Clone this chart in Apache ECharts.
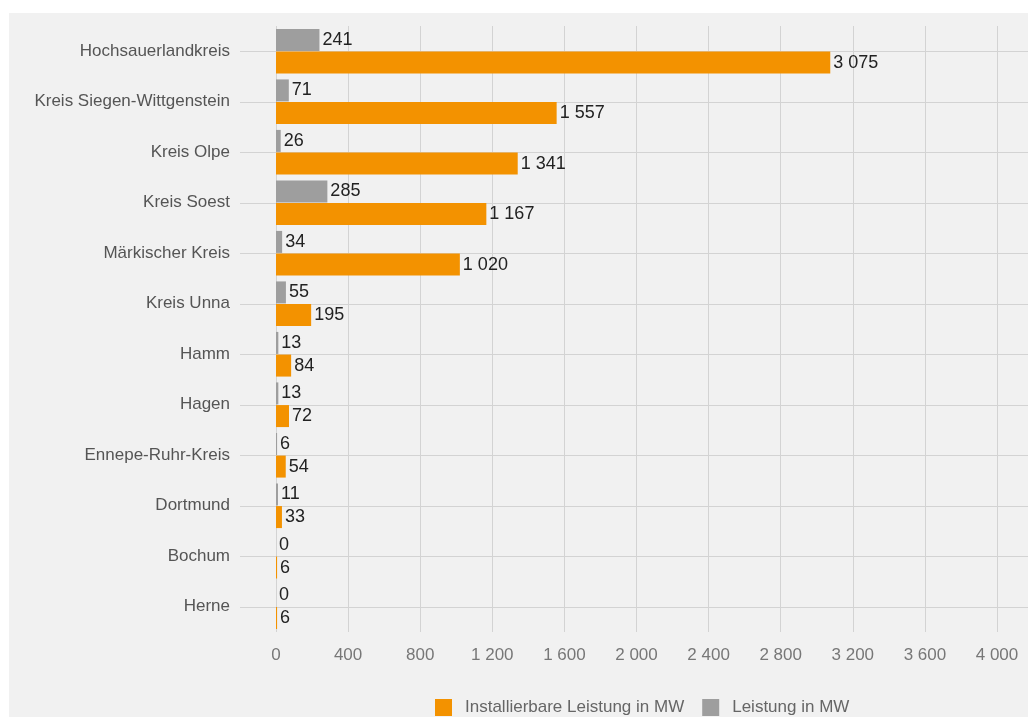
<!DOCTYPE html>
<html>
<head>
<meta charset="utf-8">
<script src="https://cdn.jsdelivr.net/npm/echarts@6/dist/echarts.min.js"></script>
<style>
  html, body { margin: 0; padding: 0; background: #ffffff; }
  #chart { position: absolute; left: 9px; top: 13px; width: 1019px; height: 704px; background: #f1f1f1; }
</style>
</head>
<body>
<div id="chart"></div>
<script>
// Kreise / Städte
var categories = ["Hochsauerlandkreis", "Kreis Siegen-Wittgenstein", "Kreis Olpe", "Kreis Soest",
  "Märkischer Kreis", "Kreis Unna", "Hamm", "Hagen", "Ennepe-Ruhr-Kreis", "Dortmund", "Bochum", "Herne"];
var leistung = [241, 71, 26, 285, 34, 55, 13, 13, 6, 11, 0, 0];
var installierbar = [3075, 1557, 1341, 1167, 1020, 195, 84, 72, 54, 33, 6, 6];
var tickValues = [0, 400, 800, 1200, 1600, 2000, 2400, 2800, 3200, 3600, 4000];

function fmt(v) {
  return String(v).replace(/\B(?=(\d{3})+(?!\d))/g, " ");
}

var myChart = echarts.init(document.getElementById("chart"));
var font = "'Liberation Sans', Arial, sans-serif";
var lineColor = "#d3d3d3";

myChart.setOption({
  backgroundColor: "#f1f1f1",
  animation: false,
  textStyle: { fontFamily: font },
  legend: {
    left: 421,
    top: 681,
    itemWidth: 17,
    itemHeight: 17,
    itemGap: 18,
    icon: "rect",
    textStyle: { color: "#666", fontSize: 17, fontFamily: font, padding: [0, 0, 0, 8] },
    data: ["Installierbare Leistung in MW", "Leistung in MW"]
  },
  grid: { left: 267, top: 13, right: 0, bottom: 85, containLabel: false },
  xAxis: {
    type: "value",
    min: 0,
    max: 4172,
    interval: 400,
    axisLine: { show: false },
    axisTick: { show: false },
    splitLine: { lineStyle: { color: lineColor, width: 1 } },
    axisLabel: {
      showMaxLabel: false,
      color: "#777",
      fontSize: 17,
      margin: 15,
      formatter: function (v) { return tickValues.indexOf(v) >= 0 ? fmt(v) : ""; }
    }
  },
  yAxis: {
    type: "category",
    inverse: true,
    data: categories,
    axisLine: { show: false },
    axisTick: { show: true, alignWithLabel: true, length: 36, lineStyle: { color: lineColor } },
    splitLine: { show: false },
    axisLabel: { color: "#555", fontSize: 17, margin: 46 }
  },
  series: [
    {
      name: "Leistung in MW",
      type: "bar",
      data: leistung,
      barWidth: 22,
      barGap: "3%",
      itemStyle: { color: "#9e9e9e" },
      label: {
        show: true, position: "right", distance: 3,
        color: "#222", fontSize: 18,
        formatter: function (p) { return fmt(p.value); }
      },
      z: 3
    },
    {
      name: "Installierbare Leistung in MW",
      type: "bar",
      data: installierbar,
      barWidth: 22,
      itemStyle: { color: "#f39200" },
      label: {
        show: true, position: "right", distance: 3,
        color: "#222", fontSize: 18,
        formatter: function (p) { return fmt(p.value); }
      },
      z: 3
    },
    {
      // horizontale Linien in der Mitte jeder Kategorie
      name: "lines",
      type: "line",
      data: [],
      silent: true,
      z: 1,
      markLine: {
        z: 1,
        silent: true,
        symbol: "none",
        label: { show: false },
        lineStyle: { color: lineColor, type: "solid", width: 1 },
        data: categories.map(function (c) { return { yAxis: c }; })
      }
    }
  ]
});
</script>
</body>
</html>
